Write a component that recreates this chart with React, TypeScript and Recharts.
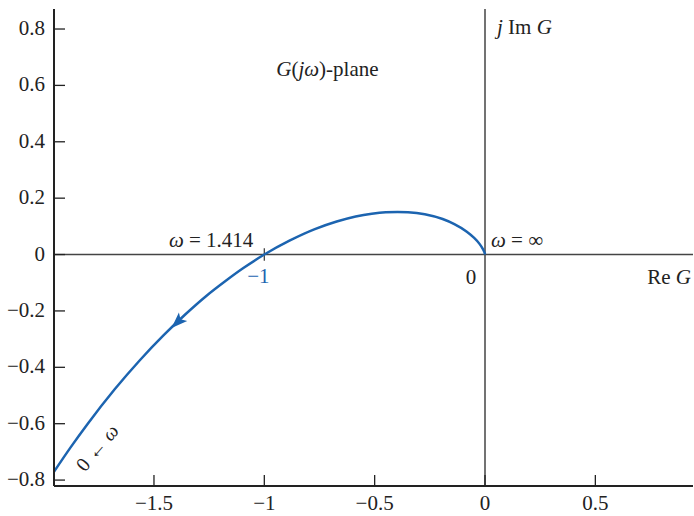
import {
  ComposedChart,
  Line,
  Scatter,
  XAxis,
  YAxis,
  ReferenceLine,
  ReferenceDot,
} from "recharts";

// Nyquist curve G(jω) (ω from ~0.94 up to ∞)
const reValues = [
  -1.957, -1.877, -1.8, -1.678, -1.563, -1.456, -1.356, -1.263, -1.176, -1.095, -1.0,
  -0.886, -0.771, -0.672, -0.586, -0.513, -0.45, -0.396, -0.349, -0.273, -0.192,
  -0.139, -0.084, -0.053, -0.024, -0.0122, -0.0068, -0.0017, -0.00035, 0,
];
const imValues = [
  -0.775, -0.683, -0.6, -0.478, -0.374, -0.286, -0.211, -0.147, -0.094, -0.048, 0,
  0.049, 0.09, 0.117, 0.135, 0.145, 0.15, 0.151, 0.15, 0.143, 0.126,
  0.108, 0.082, 0.062, 0.037, 0.023, 0.0152, 0.0056, 0.0017, 0,
];

const xTicks = [-1.5, -1, -0.5, 0, 0.5];
const yTicks = [-0.8, -0.6, -0.4, -0.2, 0, 0.2, 0.4, 0.6, 0.8];
const xDomain = [-1.953, 0.9425];
const yDomain = [-0.821, 0.871];

// direction marker on the curve
const arrowPoint = [{ re: -1.391, im: -0.238 }];

const curve = reValues.map((re, i) => ({ re, im: imValues[i] }));

const BLUE = "#1c64b0";
const INK = "#222";
const FONT = "'Liberation Serif', 'DejaVu Serif', serif";
const FS = 21;

const fmt = (v: number) => (v < 0 ? "\u2212" + Math.abs(v) : String(v));

const bottomTick = (p: any) => (
  <g>
    <line x1={p.x} x2={p.x} y1={p.y} y2={p.y - 11} stroke={INK} strokeWidth={1.3} />
    <text x={p.x} y={p.y + 24} textAnchor="middle" fontSize={FS} fill={INK} fontFamily={FONT}>
      {fmt(p.payload.value)}
    </text>
  </g>
);

const topTick = (p: any) => (
  <line x1={p.x} x2={p.x} y1={p.y} y2={p.y + 11} stroke={INK} strokeWidth={1.3} />
);

const leftTick = (p: any) => (
  <g>
    <line x1={p.x} x2={p.x + 11} y1={p.y} y2={p.y} stroke={INK} strokeWidth={1.3} />
    <text x={p.x - 9} y={p.y + 6} textAnchor="end" fontSize={FS} fill={INK} fontFamily={FONT}>
      {fmt(p.payload.value)}
    </text>
  </g>
);

const rightTick = (p: any) => (
  <line x1={p.x} x2={p.x - 11} y1={p.y} y2={p.y} stroke={INK} strokeWidth={1.3} />
);

const label =
  (content: any, dx: number, dy: number, anchor: string, color = INK, rotate = 0, size = FS) =>
  (p: any) => {
    const x = p.cx + dx;
    const y = p.cy + dy;
    return (
      <text
        x={x}
        y={y}
        textAnchor={anchor}
        fontSize={size}
        fill={color}
        fontFamily={FONT}
        transform={rotate ? `rotate(${rotate} ${x} ${y})` : undefined}
      >
        {content}
      </text>
    );
  };

const arrowShape = (p: any) => (
  <polygon
    points="9,0 -7,-6 -3.5,0 -7,6"
    fill={BLUE}
    transform={`translate(${p.cx} ${p.cy}) rotate(136)`}
  />
);

const ax = { xAxisId: "b", yAxisId: "l" };

export default function App() {
  return (
    <div style={{ position: "absolute", left: 0, top: 0, background: "#fff" }}>
      <ComposedChart width={694} height={516} margin={{ top: 9, right: 1, bottom: 0, left: 0 }}>
        <XAxis
          xAxisId="b"
          type="number"
          dataKey="re"
          domain={xDomain}
          allowDataOverflow
          ticks={xTicks}
          height={30}
          tickSize={0}
          tickMargin={0}
          tickLine={false}
          tick={bottomTick}
          axisLine={{ stroke: INK, strokeWidth: 2 }}
        />
        <XAxis
          xAxisId="t"
          orientation="top"
          type="number"
          dataKey="re"
          domain={xDomain}
          allowDataOverflow
          ticks={xTicks}
          height={0}
          tickSize={0}
          tickMargin={0}
          tickLine={false}
          tick={topTick}
          axisLine={{ stroke: INK, strokeWidth: 2 }}
        />
        <YAxis
          yAxisId="l"
          type="number"
          dataKey="im"
          domain={yDomain}
          allowDataOverflow
          ticks={yTicks}
          width={54}
          tickSize={0}
          tickMargin={0}
          tickLine={false}
          tick={leftTick}
          axisLine={{ stroke: INK, strokeWidth: 2 }}
        />
        <YAxis
          yAxisId="r"
          orientation="right"
          type="number"
          domain={yDomain}
          allowDataOverflow
          ticks={yTicks}
          width={0}
          tickSize={0}
          tickMargin={0}
          tickLine={false}
          tick={rightTick}
          axisLine={{ stroke: INK, strokeWidth: 2 }}
        />

        <ReferenceLine {...ax} x={0} stroke="#444" strokeWidth={1.5} />
        <ReferenceLine {...ax} y={0} stroke="#444" strokeWidth={1.5} />
        <ReferenceLine
          {...ax}
          segment={[
            { x: -1, y: -0.022 },
            { x: -1, y: 0.022 },
          ]}
          stroke="#444"
          strokeWidth={1.3}
        />

        <Line
          {...ax}
          data={curve}
          dataKey="im"
          type="monotone"
          stroke={BLUE}
          strokeWidth={2.5}
          dot={false}
          activeDot={false}
          isAnimationActive={false}
        />
        <Scatter
          {...ax}
          data={arrowPoint}
          dataKey="im"
          shape={arrowShape}
          isAnimationActive={false}
        />

        <ReferenceDot
          {...ax}
          x={-1}
          y={0}
          r={0}
          shape={label(
            <>
              <tspan fontStyle="italic">ω</tspan> = 1.414
            </>,
            -11,
            -8,
            "end"
          )}
        />
        <ReferenceDot {...ax} x={-1} y={0} r={0} shape={label("\u22121", -6, 28, "middle", BLUE)} />
        <ReferenceDot {...ax} x={0} y={0} r={0} shape={label("0", -14, 29, "middle")} />
        <ReferenceDot
          {...ax}
          x={0}
          y={0}
          r={0}
          shape={label(
            <>
              <tspan fontStyle="italic">ω</tspan> = ∞
            </>,
            6,
            -8,
            "start"
          )}
        />
        <ReferenceDot
          {...ax}
          x={0.933}
          y={0}
          r={0}
          shape={label(
            <>
              Re <tspan fontStyle="italic">G</tspan>
            </>,
            0,
            29,
            "end"
          )}
        />
        <ReferenceDot
          {...ax}
          x={0}
          y={0.8}
          r={0}
          shape={label(
            <>
              <tspan fontStyle="italic">j</tspan> Im <tspan fontStyle="italic">G</tspan>
            </>,
            12,
            5,
            "start"
          )}
        />
        <ReferenceDot
          {...ax}
          x={-0.714}
          y={0.633}
          r={0}
          shape={label(
            <>
              <tspan fontStyle="italic">G</tspan>(<tspan fontStyle="italic">jω</tspan>)-plane
            </>,
            0,
            0,
            "middle"
          )}
        />
        <ReferenceDot
          {...ax}
          x={-1.774}
          y={-0.6865}
          r={0}
          shape={label(
            <>
              0 ← <tspan fontStyle="italic">ω</tspan>
            </>,
            9,
            4,
            "middle",
            INK,
            -50,
            20
          )}
        />
      </ComposedChart>
    </div>
  );
}
